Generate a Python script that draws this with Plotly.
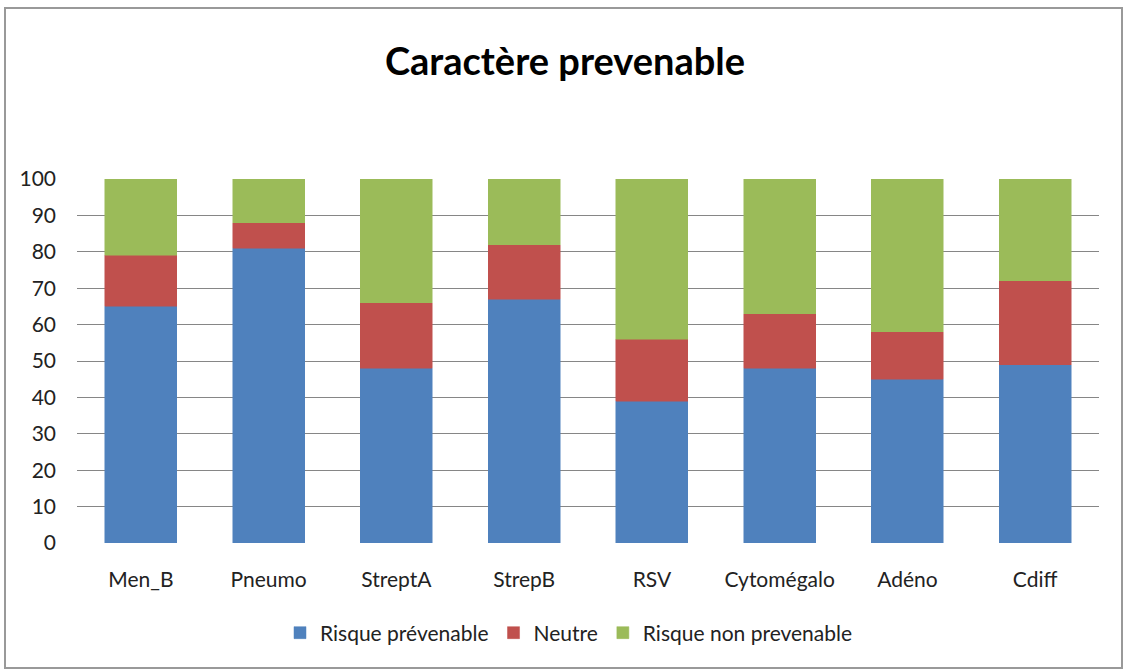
import plotly.graph_objects as go

categories = ["Men_B", "Pneumo", "StreptA", "StrepB", "RSV", "Cytomégalo", "Adéno", "Cdiff"]
risque_prevenable = [65, 81, 48, 67, 39, 48, 45, 49]
neutre = [14, 7, 18, 15, 17, 15, 13, 23]
risque_non_prevenable = [21, 12, 34, 18, 44, 37, 42, 28]
y_ticks = list(range(0, 101, 10))

FONT = "Lato, 'Open Sans', sans-serif"
W, H = 1126, 671
L, R, T, B = 77, 27, 179, 128

fig = go.Figure()
for name, vals, col in [
    ("Risque prévenable", risque_prevenable, "#4F81BD"),
    ("Neutre", neutre, "#C0504D"),
    ("Risque non prevenable", risque_non_prevenable, "#9BBB59"),
]:
    fig.add_trace(go.Bar(x=categories, y=vals, name=name,
                         marker=dict(color=col, line=dict(color=col, width=0.5))))

pw = W - L - R
ph = H - T - B
fig.add_shape(type="rect", xref="paper", yref="paper",
              x0=(5 - L) / pw, x1=(1122 - L) / pw,
              y0=(H - 668 - B) / ph, y1=(H - 8 - B) / ph,
              line=dict(color="#999999", width=2), fillcolor="rgba(0,0,0,0)", layer="below")

fig.update_layout(
    width=W, height=H,
    barmode="stack", bargap=0.437,
    paper_bgcolor="white", plot_bgcolor="white",
    margin=dict(l=L, r=R, t=T, b=B),
    title=dict(text="<b>Caractère prevenable</b>", xref="container", x=565 / W,
               xanchor="center", yref="container", y=1 - 62 / H, yanchor="middle",
               font=dict(family=FONT, size=38, color="black")),
    font=dict(family=FONT, size=21, color="#222"),
    xaxis=dict(showline=False, ticks="", showgrid=False, zeroline=False,
               ticklabelstandoff=22, tickfont=dict(size=21, color="#222")),
    yaxis=dict(range=[0, 100], tickvals=y_ticks, showgrid=True, gridcolor="#868686",
               gridwidth=1.3, zeroline=False, showline=False, ticks="",
               ticklabelstandoff=20, tickfont=dict(size=21, color="#222")),
    legend=dict(orientation="h", xref="container", x=569 / W, xanchor="center",
                yref="container", y=1 - 633 / H, yanchor="middle",
                font=dict(size=21, color="#222"), traceorder="normal",
                itemwidth=30),
    showlegend=True,
)

fig.write_html("out.html", config={"displayModeBar": False},
               post_script="document.body.style.margin='0';")
